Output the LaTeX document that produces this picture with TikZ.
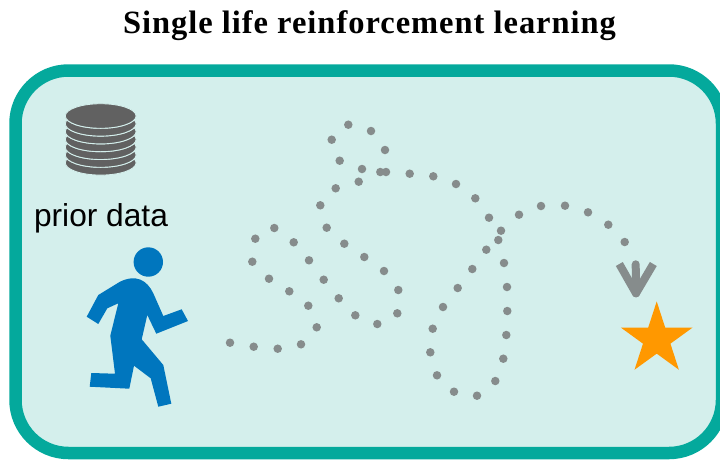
\documentclass[tikz,border=0pt]{standalone}
\usepackage{fontspec}
\usepackage{tikz}
\usetikzlibrary{shapes.geometric}
\setmainfont{Liberation Serif}
\newfontfamily\titlefont[LetterSpace=3]{Liberation Serif}
\newfontfamily\labelfont{Liberation Sans}
\definecolor{frameteal}{HTML}{04A99C}
\definecolor{framefill}{HTML}{D4EFEC}
\definecolor{runnerblue}{HTML}{0076BE}
\definecolor{stargold}{HTML}{FF9800}
\definecolor{diskgray}{HTML}{616161}
\definecolor{trailgray}{HTML}{868C8C}

\begin{document}
\begin{tikzpicture}[x=1pt, y=-1pt]
    \tikzstyle{trail dot}=[
        fill = trailgray,
        circle,
        inner sep = 0pt,
        minimum size = 8.5pt
    ]
    \tikzstyle{disk}=[
        fill = diskgray,
        draw = framefill,
        line width = 0.9pt
    ]
    \tikzstyle{trail tip}=[
        draw = trailgray,
        line width = 8pt
    ]

    \useasboundingbox (0, 0) rectangle (720, 459);
    \clip (0, 0) rectangle (720, 459);

    \node[font=\fontsize{32.5}{36}\titlefont\bfseries, anchor=base] (title) at (369.5, 33.5) {Single life reinforcement learning};

    \draw[draw=frameteal, fill=framefill, line width=12.5pt, rounded corners=53pt]
        (15.5, 70.5) rectangle (722, 453);

    % data stack
    \foreach \i in {6,...,0} {
        \fill[disk] (100.7, {116 + 7.8*\i}) ellipse (35.4 and 12.3);
        \draw[disk] (100.7, {116 + 7.8*\i}) ellipse (35.4 and 12.3);
    }
    \node[font=\fontsize{31.7}{36}\labelfont] (prior) at (101, 218.5) {prior data};

    % runner
    \node[fill=runnerblue, circle, inner sep=0pt, minimum size=29.4pt] (head) at (148.3, 262) {};
    \fill[runnerblue] (98.3, 295) -- (120, 281.7)
        .. controls (136, 274) and (147, 280) .. (153.3, 293.3)
        -- (163.3, 316) -- (181.7, 309.3) -- (188, 321) -- (156.3, 333.7)
        -- (147.3, 315) -- (141.7, 339.3) -- (163.3, 365) -- (171.3, 403.7)
        -- (158.3, 406.7) -- (150.7, 378.3) -- (134, 365.7) -- (129.3, 388.7)
        -- (89.7, 386.7) -- (91.3, 373) -- (115, 373.7) -- (110.3, 335.7)
        -- (118.3, 303.3) -- (107.3, 308.3) -- (98.3, 324) -- (86.7, 316.7) -- cycle;

    % trail
    \foreach \x/\y [count=\n] in {
        230/342.7, 253.7/346.7, 277.7/348.7, 301/344.3, 316.7/327.3, 308.3/305.7,
        289.3/291.3, 269/278.7, 252.3/261.7, 255.3/238.7, 274.3/228, 293.7/242.3,
        309/260.3, 323.7/279.7, 338.7/298.3, 355.3/315.3, 377.3/324, 397.3/313.3,
        398.3/290, 384/271, 364.3/257, 344.3/243.7, 326.7/227.7, 320.3/205.3,
        335.7/188.3, 358.7/181.7, 362/169, 339.7/160.7, 331.7/139.7, 348.3/124.7,
        371/131, 385/150, 386/172, 380.3/172, 409.7/173.7, 433.3/176.3,
        456/184, 475.3/198.3, 489/217.7, 501/230.7, 504/263, 507/287,
        507.3/311, 506.3/335, 503.3/358.7, 495.3/381, 477/395.7, 454/391.7,
        437/375.3, 430.3/352.3, 432.7/328.7, 443/307, 457.7/288, 472.3/269,
        486.3/249.7, 498.3/240, 519/214.7, 541/206, 565/205.7, 588/212.3,
        608.3/224.7, 624.7/242} {
        \node[trail dot] (d\n) at (\x, \y) {};
    }

    % arrow head
    \coordinate (tip) at (636, 293.3);
    \coordinate (shaft) at (635.7, 264.3);
    \coordinate (wingl) at (619.3, 264);
    \coordinate (wingr) at (653.3, 264);
    \draw[trail tip, line cap=round] (shaft) -- (tip);
    \draw[trail tip, line join=round] (wingl) -- (tip) -- (wingr);

    \node[fill=stargold, star, star points=5, star point ratio=2.618, inner sep=0pt, minimum size=75.5pt] (goal) at (656.7, 339.2) {};
\end{tikzpicture}
\end{document}
